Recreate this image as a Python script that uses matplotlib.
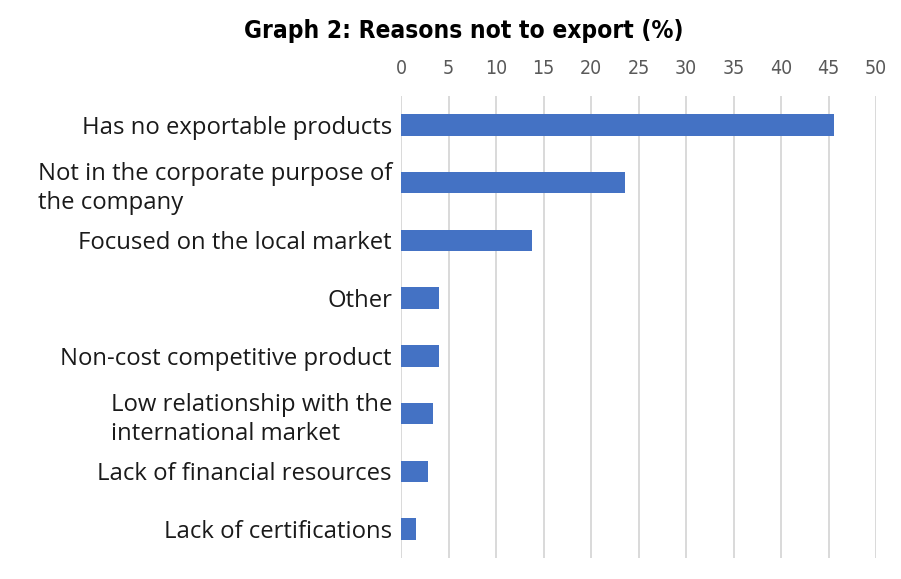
import matplotlib
matplotlib.use("Agg")
import matplotlib.pyplot as plt
from matplotlib import font_manager
from matplotlib.font_manager import FontProperties

categories = [
    "Has no exportable products",
    "Not in the corporate purpose of\nthe company",
    "Focused on the local market",
    "Other",
    "Non-cost competitive product",
    "Low relationship with the\ninternational market",
    "Lack of financial resources",
    "Lack of certifications",
]
values = [45.6, 23.6, 13.8, 4.0, 4.0, 3.4, 2.8, 1.6]
x_ticks = [0, 5, 10, 15, 20, 25, 30, 35, 40, 45, 50]


def pick_narrow(bold):
    """Find a condensed sans face if one is installed."""
    want = 700 if bold else 400
    best = None
    for f in font_manager.fontManager.ttflist:
        nm = f.name.lower()
        narrow = ("narrow" in nm or "condensed" in nm or
                  f.stretch in ("condensed", "semi-condensed", "extra-condensed"))
        if not narrow or f.style != "normal":
            continue
        w = f.weight if isinstance(f.weight, int) else (700 if "bold" in str(f.weight) else 400)
        score = abs(w - want)
        if best is None or score < best[0]:
            best = (score, f.fname)
    return best[1] if best else None


reg_file = pick_narrow(False)
bold_file = pick_narrow(True)
if reg_file:
    tick_fp = FontProperties(fname=reg_file, size=14)
else:
    tick_fp = FontProperties(family="Liberation Sans", size=12.5)
if bold_file:
    title_fp = FontProperties(fname=bold_file, size=17.6, weight="bold")
else:
    title_fp = FontProperties(family="Liberation Sans", weight="bold", size=18.7)

fig = plt.figure(figsize=(9.01, 5.79), dpi=100)
ax = fig.add_axes([401 / 901, 1 - 558 / 579, 475 / 901, 462 / 579])

y = list(range(len(categories)))
ax.barh(y, values, height=0.37, color="#4472C4", zorder=3)
ax.set_ylim(len(categories) - 0.5, -0.5)
ax.set_xlim(0, 50)

ax.xaxis.tick_top()
ax.set_xticks(x_ticks)
ax.set_xticklabels([str(t) for t in x_ticks], fontproperties=tick_fp, color="#595959")
ax.tick_params(axis="x", length=0, pad=13)
ax.grid(axis="x", color="#d9d9d9", linewidth=1.4, zorder=0)
ax.set_axisbelow(True)
for s in ax.spines.values():
    s.set_visible(False)

ax.set_yticks(y)
ax.set_yticklabels(categories, fontfamily="Open Sans", fontsize=17.2, color="#1a1a1a",
                   multialignment="left", linespacing=1.32)
ax.tick_params(axis="y", length=0, pad=6.5)

fig.text(464 / 901, 1 - 31 / 579, "Graph 2: Reasons not to export (%)", ha="center", va="center",
         fontproperties=title_fp, color="black")

fig.savefig("out.png", dpi=100, facecolor="white")
